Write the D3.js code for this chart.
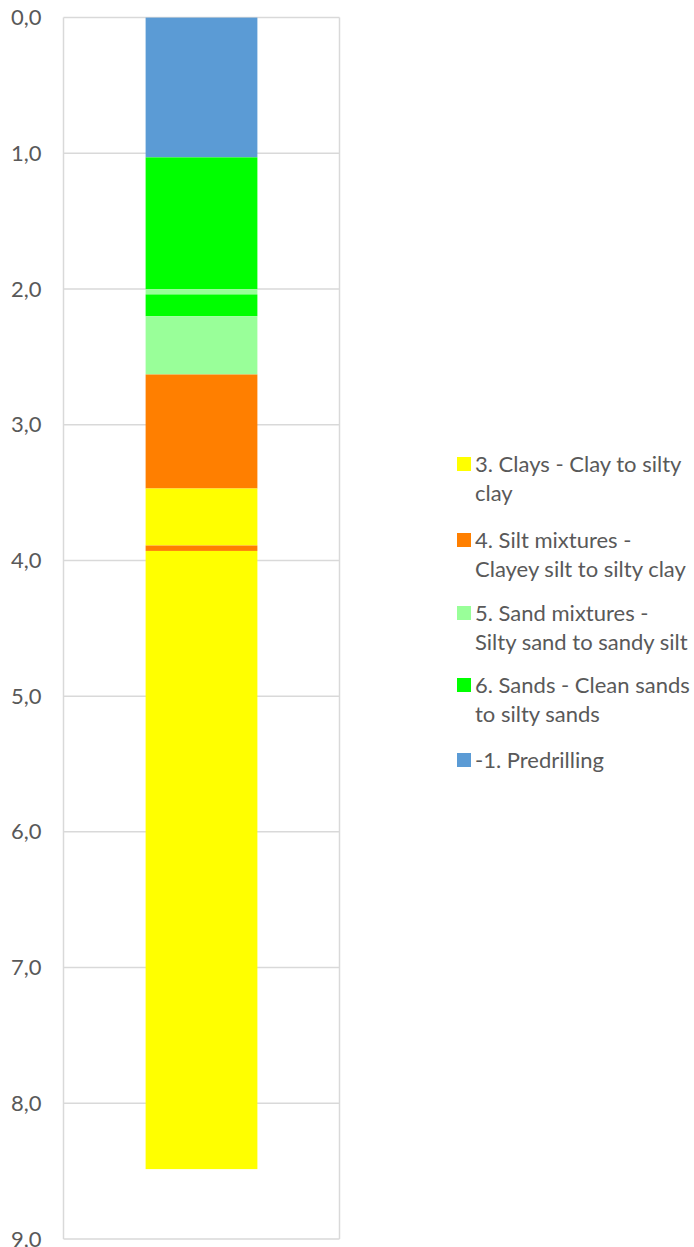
<!DOCTYPE html>
<html>
<head>
<meta charset="utf-8">
<script src="https://cdn.jsdelivr.net/npm/d3@7"></script>
<style>
  body { margin: 0; background: #fff; }
  text { font-family: Lato, "Open Sans", sans-serif; fill: #595959; }
</style>
</head>
<body>
<script>
// soil layers (depth in m)
var layerTop    = [0.00, 1.03, 2.00, 2.04, 2.20, 2.63, 3.47, 3.89, 3.93];
var layerBottom = [1.03, 2.00, 2.04, 2.20, 2.63, 3.47, 3.89, 3.93, 8.485];
var layerType   = [-1, 6, 5, 6, 5, 4, 3, 4, 3];

// legend entries
var typeCodes  = [3, 4, 5, 6, -1];
var typeLabels = [
    ["3. Clays - Clay to silty", "clay"],
    ["4. Silt mixtures -", "Clayey silt to silty clay"],
    ["5. Sand mixtures -", "Silty sand to sandy silt"],
    ["6. Sands - Clean sands", "to silty sands"],
    ["-1. Predrilling"]
];
var typeColors = ["#ffff00", "#ff7f00", "#99ff99", "#00ff00", "#5b9bd5"];

var depthTicks = [0, 1, 2, 3, 4, 5, 6, 7, 8, 9];

var width = 694;
var height = 1247;

var svg = d3.select("body")
    .append("svg")
    .attr("width", width)
    .attr("height", height);

var plotLeft = 63.5, plotRight = 339.5;

var y = d3.scaleLinear()
    .domain([0, 9])
    .range([17.6, 1239]);

var x = d3.scaleBand()
    .domain(["CPT"])
    .range([plotLeft, plotRight])
    .paddingInner(0.595)
    .paddingOuter(0.2975);

var color = d3.scaleOrdinal()
    .domain(typeCodes)
    .range(typeColors);

// gridlines
svg.append("g")
    .selectAll("line")
    .data(depthTicks)
    .enter().append("line")
    .attr("x1", plotLeft)
    .attr("x2", plotRight)
    .attr("y1", function(d) { return y(d); })
    .attr("y2", function(d) { return y(d); })
    .attr("stroke", "#d9d9d9")
    .attr("stroke-width", 1.5);

// plot area sides
svg.append("g")
    .selectAll("line")
    .data([plotLeft, plotRight])
    .enter().append("line")
    .attr("x1", function(d) { return d; })
    .attr("x2", function(d) { return d; })
    .attr("y1", y(0))
    .attr("y2", y(9))
    .attr("stroke", "#d9d9d9")
    .attr("stroke-width", 1.5);

// layers
svg.append("g")
    .selectAll("rect")
    .data(layerTop)
    .enter().append("rect")
    .attr("x", x("CPT"))
    .attr("width", x.bandwidth())
    .attr("y", function(d) { return y(d); })
    .attr("height", function(d, i) { return y(layerBottom[i]) - y(d); })
    .attr("fill", function(d, i) { return color(layerType[i]); });

// depth axis
var axis = svg.append("g")
    .attr("transform", "translate(" + (plotLeft - 22) + ",0)")
    .call(d3.axisLeft(y)
        .tickValues(depthTicks)
        .tickSize(0)
        .tickPadding(0)
        .tickFormat(function(d) { return d3.format(".1f")(d).replace(".", ","); }));
axis.select(".domain").remove();
axis.selectAll("text")
    .style("font-size", "22px")
    .style("font-family", "Lato, 'Open Sans', sans-serif")
    .attr("fill", "#595959");

// legend
var legendY = [464, 540, 613, 685, 760];
var legend = svg.append("g")
    .selectAll("g")
    .data(typeCodes)
    .enter().append("g")
    .attr("transform", function(d, i) { return "translate(457," + legendY[i] + ")"; });

legend.append("rect")
    .attr("x", 0)
    .attr("y", -7)
    .attr("width", 14)
    .attr("height", 14)
    .attr("fill", function(d) { return color(d); });

legend.append("text")
    .attr("x", 18)
    .style("font-size", "22px")
    .selectAll("tspan")
    .data(function(d, i) { return typeLabels[i]; })
    .enter().append("tspan")
    .attr("x", 18)
    .attr("y", function(d, j) { return j * 29; })
    .attr("dy", "0.35em")
    .text(function(d) { return d; });
</script>
</body>
</html>
